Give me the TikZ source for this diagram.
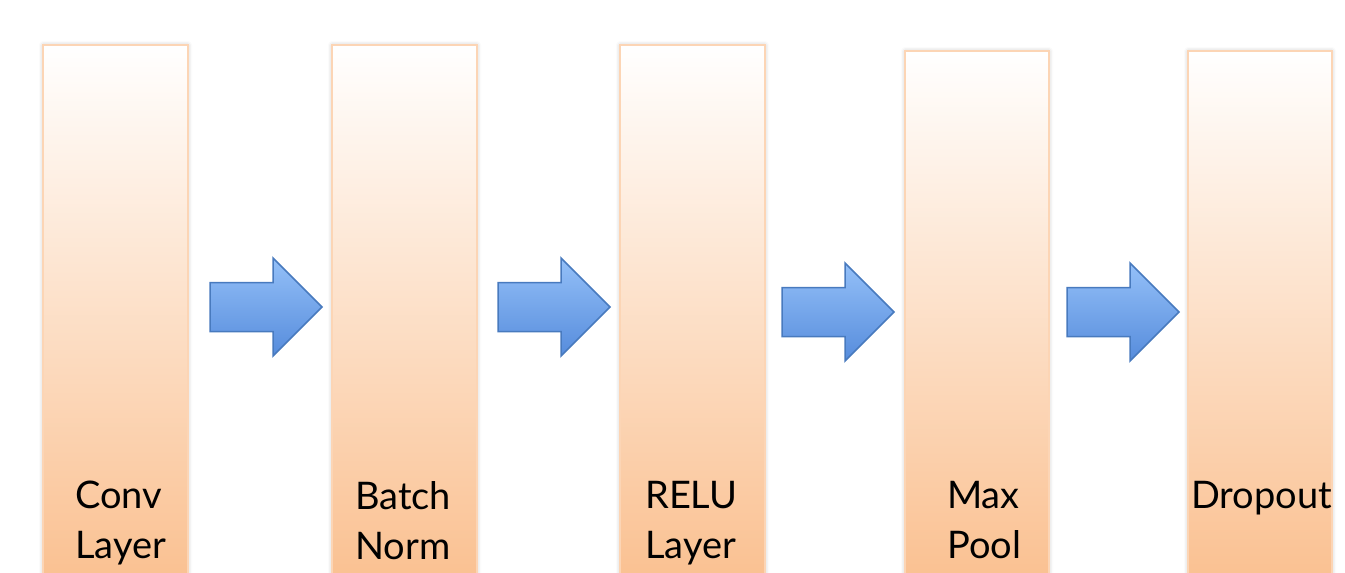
\documentclass[tikz,border=0pt]{standalone}
\usepackage{fontspec}
\setmainfont{Lato}
\usetikzlibrary{shadows.blur}
\definecolor{peach}{RGB}{250,192,144}
\definecolor{peachline}{RGB}{252,213,181}
\definecolor{arrtop}{RGB}{148,192,248}
\definecolor{arrbot}{RGB}{86,140,220}
\definecolor{arrline}{RGB}{72,122,190}
\tikzset{
  layerbox/.style={draw=peachline, line width=2pt, top color=white, bottom color=peach,
    blur shadow={shadow xshift=0pt, shadow yshift=0pt, shadow blur radius=4pt, shadow opacity=25}},
  blockarr/.style={draw=arrline, line width=1.5pt, top color=arrtop, bottom color=arrbot, line join=miter},
  lbl/.style={font=\fontsize{38}{50}\selectfont, inner sep=0pt, align=left, anchor=north west}
}
\newcommand{\blockarrow}[3]{% name, left x, center y
  \path[blockarr] (#2,#3-24.5) coordinate (#1) -- (#2+63,#3-24.5) -- (#2+63,#3-49) -- (#2+112,#3)
    -- (#2+63,#3+49) -- (#2+63,#3+24.5) -- (#2,#3+24.5) -- cycle;}
\begin{document}
\begin{tikzpicture}[x=1pt,y=-1pt]
\useasboundingbox (0,0) rectangle (1345,573);
\path[layerbox] (43,45) rectangle (188,585) coordinate (conv);
\path[layerbox] (332,45) rectangle (477,585) coordinate (batch);
\path[layerbox] (620,45) rectangle (765,585) coordinate (relu);
\path[layerbox] (905,51) rectangle (1049,585) coordinate (pool);
\path[layerbox] (1188,51) rectangle (1332,585) coordinate (drop);
\blockarrow{a1}{210}{307}
\blockarrow{a2}{498}{307}
\blockarrow{a3}{782}{312}
\blockarrow{a4}{1067}{312}
\node[lbl] (tconv) at (75,481) {Conv\\Layer};
\node[lbl] (tbatch) at (355,481) {Batch\\Norm};
\node[lbl] (trelu) at (645,481) {RELU\\Layer};
\node[lbl] (tpool) at (947,481) {Max\\Pool};
\node[lbl] (tdrop) at (1191,481) {Dropout};
\end{tikzpicture}
\end{document}
